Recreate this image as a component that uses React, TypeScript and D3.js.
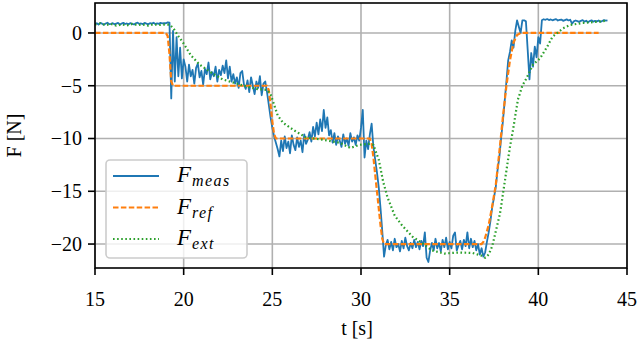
import React from "react";
import * as d3 from "d3";

// Measured force, sampled every 0.1 s starting at 15.0 s
const measStart = 15.0;
const measStep = 0.1;
const measF = [
  0.85, 0.92, 0.80, 0.95, 0.88, 0.78, 0.90, 0.97, 0.84, 0.86, // 15
  0.93, 0.82, 0.89, 0.95, 0.80, 0.88, 0.96, 0.85, 0.90, 0.83, // 16
  0.94, 0.87, 0.81, 0.92, 0.98, 0.86, 0.90, 0.84, 0.95, 0.88, // 17
  0.82, 0.93, 0.89, 0.97, 0.85, 0.91, 0.86, 0.96, 0.90, 0.94, // 18
  0.92, 1.00, 0.98, -6.2, 0.2, -4.6, -0.4, -4.1, -1.4, -4.3, // 19
  -2.5, -3.2, -4.6, -3.0, -4.1, -3.5, -4.8, -3.3, -2.9, -4.2, // 20
  -3.6, -4.9, -3.4, -3.9, -2.8, -4.4, -3.7, -4.1, -3.2, -4.6, // 21
  -3.5, -4.0, -3.1, -3.8, -2.6, -4.3, -3.2, -4.6, -3.9, -4.8, // 22
  -4.2, -5.2, -3.8, -3.6, -4.9, -5.3, -4.5, -5.6, -4.2, -5.0, // 23
  -5.8, -4.6, -5.2, -4.1, -5.9, -4.8, -4.6, -5.6, -6.8, -8.0, // 24
  -9.0, -9.8, -10.4, -11.0, -11.7, -10.2, -11.2, -9.8, -10.9, -10.3, // 25
  -11.4, -9.7, -10.6, -11.1, -9.9, -10.8, -10.2, -11.3, -9.6, -10.5, // 26
  -10.1, -9.4, -10.3, -8.9, -9.8, -8.5, -9.6, -8.2, -9.3, -7.3, // 27
  -9.0, -8.0, -9.7, -9.2, -10.4, -9.5, -10.6, -9.8, -10.2, -10.8, // 28
  -9.6, -10.5, -10.0, -10.7, -9.5, -10.3, -9.9, -10.6, -9.7, -10.2, // 29
  -9.0, -7.3, -11.8, -10.2, -11.0, -9.6, -8.6, -10.8, -12.0, -13.2, // 30
  -14.6, -16.6, -18.8, -21.2, -20.1, -19.6, -20.5, -19.8, -20.6, -19.5, // 31
  -20.3, -20.0, -20.7, -19.7, -20.4, -19.4, -20.2, -20.6, -19.9, -20.4, // 32
  -19.6, -20.3, -19.8, -20.5, -19.7, -20.2, -18.9, -21.3, -21.7, -20.6, // 33
  -19.9, -20.6, -19.5, -20.4, -19.9, -20.7, -19.6, -20.3, -19.4, -20.5, // 34
  -19.8, -20.4, -19.2, -18.9, -20.6, -20.1, -19.7, -20.5, -19.6, -20.2, // 35
  -18.9, -20.4, -19.5, -20.3, -19.7, -20.6, -20.0, -21.0, -20.4, -21.2, // 36
  -20.8, -19.8, -18.9, -17.8, -16.5, -15.6, -14.6, -13.0, -11.8, -10.0, // 37
  -8.4, -6.5, -4.6, -2.6, -1.8, -0.7, -1.4, 0.2, 1.2, 0.6, // 38
  0.0, 1.2, 1.2, 1.1, -1.6, -4.4, -1.9, -3.2, -1.3, -2.3, // 39
  -0.4, -1.0, 1.2, 1.30, 1.25, 1.32, 1.22, 1.28, 1.20, 1.26, // 40
  1.31, 1.18, 1.24, 1.27, 1.15, 1.22, 1.29, 1.19, 1.25, 0.88, // 41
  1.10, 1.18, 1.12, 1.05, 1.15, 1.22, 1.08, 1.16, 1.02, 1.13, // 42
  1.20, 1.07, 1.15, 1.10, 1.18, 1.05, 1.14, 1.22, 1.17, 1.20, // 43
];

// Reference force
const refT = [15, 19.0, 19.1, 19.2, 19.3, 19.4, 24.7, 24.8, 24.9, 25.0, 25.1, 25.2,
  30.5, 30.6, 30.7, 30.8, 30.9, 31.0, 31.1, 31.2, 31.3,
  36.8, 36.9, 37.0, 37.2, 37.4, 37.6, 37.8, 38.0, 38.2, 38.4, 38.6, 38.8, 39.0, 43.4];
const refF = [0, 0, -0.3, -2.0, -4.6, -5, -5, -5.4, -6.8, -8.4, -9.6, -10,
  -10, -10.5, -11.8, -13.4, -15.0, -16.6, -18.2, -19.5, -20,
  -20, -19.8, -19.4, -18.2, -16.4, -14.4, -11.3, -8.0, -5.0, -2.6, -0.9, -0.2, 0, 0];

// External force
const extT = [15.0, 15.3, 15.6, 15.9, 16.2, 16.5, 16.8, 17.1, 17.4, 17.7, 18.0, 18.3, 18.6, 18.9, 19.2,
  19.4, 19.7, 20.0, 20.4, 20.9, 21.5, 22.2, 23.2, 24.1, 24.7, 24.9, 25.1, 25.3, 25.6, 26.2, 26.9,
  27.8, 28.8, 29.4, 29.9, 30.5, 30.7, 31.0, 31.25, 31.5, 31.9, 32.3, 32.9, 33.45, 34.0, 34.7,
  35.5, 36.3, 36.8, 37.0, 37.2, 37.4, 37.6, 37.84, 38.0, 38.23, 38.4, 38.57, 38.85, 39.1, 39.36,
  39.7, 40.1, 40.5, 40.8, 41.4, 41.8, 42.5, 43.3, 43.8];
const extF = [0.8, 0.9, 0.75, 0.85, 0.7, 0.8, 0.72, 0.85, 0.75, 0.8, 0.7, 0.82, 0.75, 0.8, 0.78,
  0.5, -0.3, -1.0, -2.1, -3.0, -3.7, -4.4, -4.9, -5.3, -5.4, -5.8, -6.8, -7.8, -8.5, -9.2, -9.9,
  -10.1, -10.4, -10.9, -10.6, -10.5, -10.6, -12.0, -14.1, -15.6, -17.3, -18.2, -19.3, -19.9, -20.6, -20.9,
  -20.8, -20.85, -21.1, -21.3, -21.0, -20.2, -18.8, -17.1, -15.3, -12.7, -10.8, -9.2, -6.3, -5.0, -4.2,
  -3.0, -2.4, -1.3, -0.35, 0.45, 0.76, 0.95, 1.05, 1.15];

const xTicks = [15, 20, 25, 30, 35, 40, 45];
const yTicks = [0, -5, -10, -15, -20];

const FONT = "'Liberation Serif', 'Times New Roman', serif";

export default function App() {
  const W = 640, H = 342;
  const L = 95, R = 627, T = 3, B = 268;
  const x = d3.scaleLinear().domain([15, 45]).range([L, R]);
  const y = d3.scaleLinear().domain([-22.27, 2.84]).range([B, T]);
  const line = d3.line<[number, number]>().x(d => x(d[0])).y(d => y(d[1]));

  const measPts: [number, number][] = measF.map((v, i) => [measStart + i * measStep, v]);
  const refPts: [number, number][] = refT.map((t, i) => [t, refF[i]]);
  const extPts: [number, number][] = extT.map((t, i) => [t, extF[i]]);

  const fmt = (v: number) => (v < 0 ? "\u2212" + Math.abs(v) : String(v));

  const legendEntries = [
    { sub: "meas", color: "#1f77b4", dash: undefined, w: 1.8 },
    { sub: "ref", color: "#ff7f0e", dash: "5.5 2.4", w: 2.2 },
    { sub: "ext", color: "#2ca02c", dash: "1.6 2.5", w: 2.2 },
  ];

  return (
    <svg width={W} height={H} style={{ position: "absolute", left: 0, top: 0, background: "#fff" }}>
      <defs>
        <clipPath id="plot">
          <rect x={L} y={T} width={R - L} height={B - T} />
        </clipPath>
      </defs>
      {/* grid */}
      {xTicks.map(t => (
        <line key={"gx" + t} x1={x(t)} x2={x(t)} y1={T} y2={B} stroke="#b0b0b0" strokeWidth={1.6} />
      ))}
      {yTicks.map(t => (
        <line key={"gy" + t} x1={L} x2={R} y1={y(t)} y2={y(t)} stroke="#b0b0b0" strokeWidth={1.6} />
      ))}
      <g clipPath="url(#plot)" fill="none">
        <path d={line(measPts) || ""} stroke="#1f77b4" strokeWidth={1.8} strokeLinejoin="round" />
        <path d={line(refPts) || ""} stroke="#ff7f0e" strokeWidth={2.2} strokeDasharray="5.5 2.4" />
        <path d={line(extPts) || ""} stroke="#2ca02c" strokeWidth={2.2} strokeDasharray="1.6 2.5" />
      </g>
      {/* spines */}
      <rect x={L} y={T} width={R - L} height={B - T} fill="none" stroke="#000" strokeWidth={1.6} />
      {/* ticks */}
      {xTicks.map(t => (
        <g key={"tx" + t}>
          <line x1={x(t)} x2={x(t)} y1={B} y2={B + 7} stroke="#000" strokeWidth={1.6} />
          <text x={x(t)} y={B + 38} textAnchor="middle" fontFamily={FONT} fontSize={20}>{t}</text>
        </g>
      ))}
      {yTicks.map(t => (
        <g key={"ty" + t}>
          <line x1={L - 7} x2={L} y1={y(t)} y2={y(t)} stroke="#000" strokeWidth={1.6} />
          <text x={L - 13} y={y(t)} dy="0.34em" textAnchor="end" fontFamily={FONT} fontSize={20}>{fmt(t)}</text>
        </g>
      ))}
      <text x={357} y={335} textAnchor="middle" fontFamily={FONT} fontSize={20}>t [s]</text>
      <text transform={`translate(21,${(T + B) / 2}) rotate(-90)`} textAnchor="middle" fontFamily={FONT} fontSize={20}>F [N]</text>
      {/* legend */}
      <rect x={106} y={160} width={141} height={98} rx={4} fill="#fff" fillOpacity={0.8} stroke="#cccccc" strokeWidth={1.6} />
      {legendEntries.map((e, i) => {
        const ly = 176 + i * 31.5;
        return (
          <g key={e.sub}>
            <line x1={113} x2={159} y1={ly} y2={ly} stroke={e.color} strokeWidth={e.w} strokeDasharray={e.dash} />
            <text x={177} y={ly + 6} fontFamily={FONT} fontStyle="italic" fontSize={23}>
              F<tspan fontSize={16} dy={4} dx={1} letterSpacing={1.4}>{e.sub}</tspan>
            </text>
          </g>
        );
      })}
    </svg>
  );
}
